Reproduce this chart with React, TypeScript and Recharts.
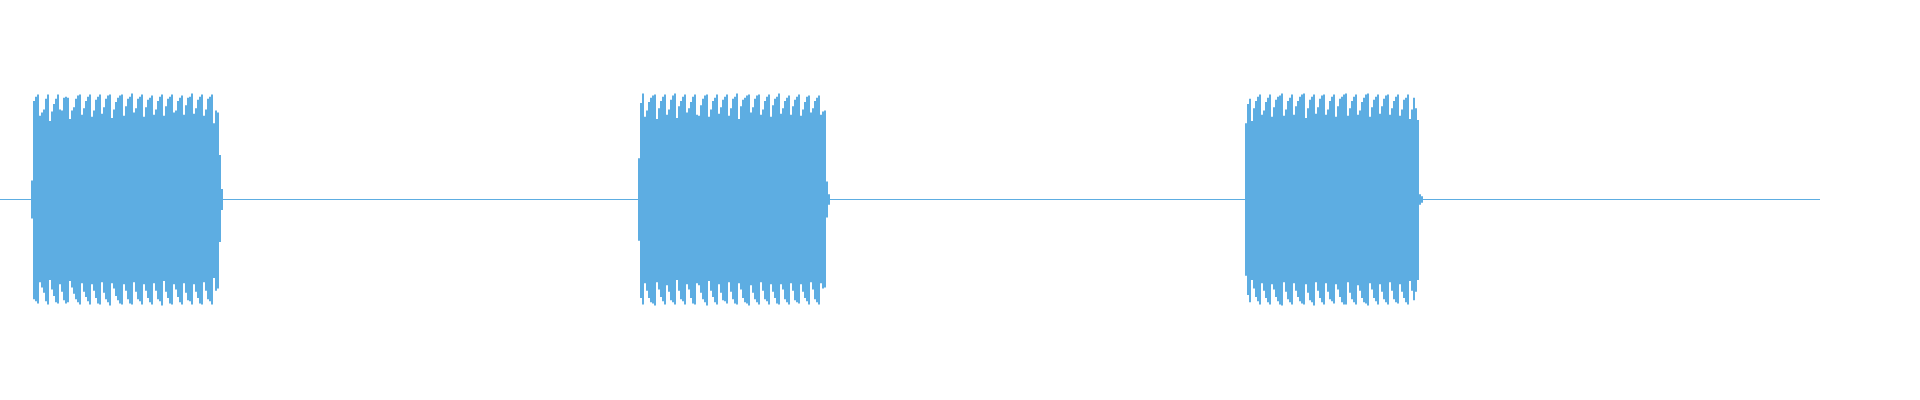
import { ComposedChart, Area, Line, XAxis, YAxis } from "recharts";

// waveform: time in ms, amplitude in % of full scale
const STEP_MS = 10;
const TIME_DOMAIN = [0, 9600];
const AMP_DOMAIN = [-188.2, 188.2];
const COLOR = "#5dade2";

const silenceLine = [
  { t: 0, amp: 0 },
  { t: 9100, amp: 0 },
];

const burst1Start = 155;
const burst1Hi = [
  18, 93, 97, 99, 79, 82, 85, 95, 99, 74,
  83, 90, 95, 99, 85, 84, 96, 97, 96, 76,
  84, 87, 95, 98, 99, 80, 86, 93, 97, 99,
  78, 84, 94, 97, 99, 81, 87, 95, 98, 99,
  77, 85, 92, 96, 98, 99, 79, 88, 95, 97,
  100, 82, 86, 95, 97, 99, 78, 87, 94, 96,
  98, 80, 85, 93, 97, 99, 79, 88, 95, 97,
  99, 82, 84, 93, 96, 98, 80, 89, 96, 97,
  100, 81, 86, 94, 97, 99, 79, 85, 95, 97,
  99, 72, 84, 82, 42, 10,
];
const burst1Lo = [
  -18, -94, -96, -98, -78, -83, -88, -96, -99, -76,
  -85, -91, -97, -98, -80, -87, -95, -98, -97, -77,
  -83, -89, -94, -97, -99, -79, -87, -92, -96, -99,
  -80, -86, -93, -98, -99, -78, -88, -94, -97, -100,
  -79, -84, -91, -95, -98, -99, -80, -86, -94, -98,
  -99, -78, -87, -94, -96, -99, -80, -86, -93, -97,
  -99, -79, -86, -94, -96, -100, -77, -87, -93, -98,
  -99, -80, -85, -92, -97, -99, -79, -88, -95, -96,
  -99, -80, -87, -93, -98, -99, -78, -86, -94, -96,
  -99, -74, -86, -84, -40, -10,
];

const burst2Start = 3190;
const burst2Hi = [
  39, 91, 100, 78, 84, 92, 96, 98, 99, 76,
  86, 93, 97, 99, 80, 85, 94, 98, 100, 77,
  88, 93, 97, 99, 82, 86, 92, 97, 99, 80,
  79, 89, 95, 98, 99, 78, 85, 93, 96, 99,
  81, 87, 94, 97, 99, 79, 86, 95, 97, 100,
  76, 88, 94, 96, 98, 99, 82, 87, 95, 98,
  99, 80, 85, 93, 97, 99, 78, 89, 95, 97,
  100, 81, 86, 93, 96, 98, 80, 88, 94, 97,
  99, 79, 85, 92, 97, 98, 82, 86, 93, 96,
  98, 80, 83, 84, 17, 5,
];
const burst2Lo = [
  -39, -93, -99, -79, -86, -93, -97, -98, -100, -78,
  -85, -92, -96, -99, -81, -87, -95, -97, -99, -76,
  -86, -94, -96, -99, -80, -85, -93, -98, -99, -79,
  -81, -88, -94, -97, -100, -77, -86, -92, -97, -99,
  -80, -88, -95, -96, -98, -78, -87, -94, -98, -99,
  -79, -85, -93, -97, -98, -100, -81, -88, -94, -97,
  -99, -78, -86, -94, -96, -99, -80, -87, -93, -98,
  -99, -80, -85, -94, -97, -99, -79, -86, -95, -97,
  -98, -80, -87, -93, -96, -99, -78, -85, -94, -97,
  -99, -79, -84, -83, -17, -5,
];

const burst3Start = 6225;
const burst3Hi = [
  72, 90, 95, 74, 86, 93, 97, 99, 80, 84,
  92, 96, 99, 78, 87, 94, 97, 98, 100, 79,
  85, 93, 96, 99, 80, 88, 93, 97, 99, 100,
  77, 86, 94, 97, 99, 81, 87, 95, 98, 99,
  80, 85, 93, 97, 99, 78, 88, 95, 97, 99,
  100, 79, 86, 93, 97, 99, 80, 84, 92, 96,
  99, 100, 78, 87, 94, 97, 99, 81, 88, 95,
  98, 99, 80, 86, 93, 97, 99, 79, 85, 94,
  96, 99, 76, 85, 96, 86, 75, 5, 3,
];
const burst3Lo = [
  -72, -90, -97, -76, -84, -92, -96, -99, -79, -86,
  -93, -97, -99, -80, -85, -92, -96, -99, -100, -78,
  -87, -94, -97, -99, -79, -86, -92, -96, -98, -99,
  -80, -88, -95, -97, -100, -78, -86, -93, -97, -99,
  -79, -87, -94, -96, -98, -80, -85, -92, -97, -99,
  -99, -78, -88, -94, -97, -99, -81, -86, -93, -97,
  -98, -100, -79, -85, -93, -96, -99, -80, -87, -94,
  -97, -99, -78, -86, -94, -97, -98, -80, -87, -93,
  -97, -99, -77, -86, -95, -87, -76, -5, -3,
];

function toBurst(start: number, hi: number[], lo: number[]) {
  const rows = hi.map((h, i) => ({ t: start + i * STEP_MS, hi: h, lo: lo[i] }));
  // closing sample so the last step has width
  rows.push({ t: start + hi.length * STEP_MS, hi: 0, lo: 0 });
  return rows;
}

const bursts = [
  toBurst(burst1Start, burst1Hi, burst1Lo),
  toBurst(burst2Start, burst2Hi, burst2Lo),
  toBurst(burst3Start, burst3Hi, burst3Lo),
];

export default function App() {
  return (
    <div style={{ position: "absolute", left: 0, top: 0, width: 1920, height: 400, background: "#fff" }}>
      <ComposedChart width={1920} height={400} margin={{ top: 0, right: 0, bottom: 1, left: 0 }}>
        <XAxis type="number" dataKey="t" domain={TIME_DOMAIN} hide allowDataOverflow />
        <YAxis type="number" domain={AMP_DOMAIN} hide allowDataOverflow />
        <Line
          data={silenceLine}
          dataKey="amp"
          stroke={COLOR}
          strokeWidth={1}
          dot={false}
          activeDot={false}
          isAnimationActive={false}
        />
        {bursts.map((rows, i) => [
          <Area
            key={`hi${i}`}
            data={rows}
            dataKey="hi"
            type="stepAfter"
            baseValue={0}
            stroke="none"
            fill={COLOR}
            fillOpacity={1}
            dot={false}
            activeDot={false}
            isAnimationActive={false}
          />,
          <Area
            key={`lo${i}`}
            data={rows}
            dataKey="lo"
            type="stepAfter"
            baseValue={0}
            stroke="none"
            fill={COLOR}
            fillOpacity={1}
            dot={false}
            activeDot={false}
            isAnimationActive={false}
          />,
        ])}
      </ComposedChart>
    </div>
  );
}
